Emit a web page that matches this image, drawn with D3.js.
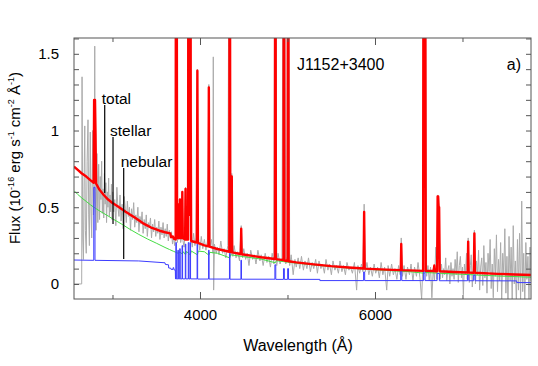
<!DOCTYPE html>
<html>
<head>
<meta charset="utf-8">
<script src="https://cdn.jsdelivr.net/npm/d3@7"></script>
<style>
  body { margin: 0; background: #fff; }
  text { font-family: "Liberation Sans", Arial, Helvetica, sans-serif; }
</style>
</head>
<body>
<div id="grafico"></div>
<script>
// observed spectrum (wavelength in Å, flux in 1e-16 erg/s/cm2/Å)
const grayBlue = [[2560,0],[2648,0],[2652,1.35],[2660,0.3],[2668,0.16],[2676,0.7],[2683,1.03],[2690,0.35],[2700,0.2],[2710,0.8],
  [2720,1.07],[2728,0.45],[2736,0.25],[2746,0.99],[2754,0.5],[2762,0.3],[2774,1.0],[2782,0.45],[2790,0.55],[2797,1.55],
  [2803,0.6],[2812,0.35],[2822,0.85],[2832,0.4],[2842,0.78],[2852,0.42],[2860,0.7],[2868,0.55],[2876,0.8],[2884,0.46],
  [2892,0.62],[2900,0.43],[2908,0.72],[2916,0.52],[2924,0.66],[2932,0.4],[2940,0.6],[2948,0.5],[2956,0.69],[2964,0.44],
  [2972,0.58],[2980,0.47],[2988,0.65],[2996,0.42],[3002,0.6],[3014,0.47],[3026,0.55],[3038,0.38],[3050,0.63],[3062,0.5],
  [3074,0.44],[3086,0.58],[3098,0.41],[3110,0.52],[3122,0.36],[3134,0.57],[3146,0.49],[3158,0.4],[3170,0.54],[3182,0.44],
  [3194,0.5],[3206,0.35],[3218,0.49],[3230,0.42],[3242,0.53],[3254,0.37],[3266,0.45],[3278,0.4],[3290,0.5],[3302,0.34],
  [3314,0.44],[3326,0.39],[3338,0.47],[3350,0.33],[3362,0.42],[3374,0.36],[3386,0.45],[3398,0.31],[3410,0.4],[3422,0.37],
  [3434,0.43],[3446,0.3],[3458,0.39],[3470,0.34],[3482,0.42],[3494,0.31],[3506,0.37],[3518,0.33],[3530,0.41],[3542,0.29],
  [3554,0.37],[3566,0.32],[3578,0.4],[3590,0.3],[3602,0.36],[3614,0.31],[3626,0.39],[3638,0.28],[3650,0.35],[3662,0.3],
  [3674,0.34],[3686,0.26],[3698,0.31],[3710,0.25]];
const grayMid = [[3720,0.3],[3727,4],[3734,0.34],[3742,0.27],[3750,0.5],[3757,0.29],[3764,0.31],[3771,0.55],[3779,0.27],[3790,0.31],
  [3798,0.6],[3806,0.28],[3818,0.24],[3826,0.32],[3835,0.63],[3843,0.29],[3855,0.33],[3869,4],[3879,0.5],[3889,4],
  [3898,0.3],[3912,0.24],[3927,0.33],[3942,0.25],[3955,0.3],[3970,1.4],[3982,0.3],[3997,0.22],[4015,0.31],[4032,0.23],
  [4050,0.29],[4068,0.22],[4085,0.28],[4101,1.3],[4114,0.24],[4130,0.29],[4148,0.2],[4152,1.48],[4156,-0.04],[4165,0.26],
  [4185,0.2],[4200,0.24],[4218,0.19],[4238,0.28],[4258,0.2],[4275,0.23],[4295,0.17],[4318,0.25],[4340,4],[4352,0.19],
  [4363,0.72],[4375,0.18],[4390,0.25],[4412,0.17],[4430,0.21],[4452,0.15],[4471,0.38],[4487,0.17],[4500,0.23],[4522,0.16],
  [4540,0.2],[4560,0.12],[4580,0.22],[4602,0.16],[4622,0.19],[4640,0.13],[4662,0.22],[4685,0.15],[4700,0.19],[4722,0.12],
  [4745,0.2],[4765,0.14],[4785,0.18],[4805,0.11],[4825,0.2],[4845,0.13],[4861,4],[4877,0.12],[4892,0.2],[4915,0.13],
  [4937,0.17],[4959,4],[4980,0.13],[4993,0.18],[5007,4],[5025,0.12],[5042,0.19],[5065,0.06],[5085,0.16],[5100,0.11],
  [5122,0.17],[5140,0.1],[5160,0.18],[5182,0.09],[5200,0.15],[5222,0.1],[5240,0.17],[5262,0.08],[5282,0.14],[5300,0.1],
  [5322,0.16],[5342,0.07],[5360,0.15],[5382,0.1],[5400,0.13],[5422,0.07],[5440,0.16],[5462,0.09],[5480,0.13],[5502,0.06],
  [5520,0.15],[5542,0.09],[5560,0.12],[5582,0.07],[5600,0.15],[5622,0.08],[5640,0.12],[5662,0.06],[5680,0.14],[5702,0.09],
  [5720,0.11],[5742,0.07],[5765,0.14],[5790,-0.04],[5805,0.12],[5825,0.07],[5845,0.13],[5862,0.08],[5876,0.52],[5890,0.08],
  [5908,0.14],[5930,0.06],[5948,0.11],[5970,0.05],[5990,0.13],[6008,0.07],[6030,0.11],[6050,0.04],[6070,0.14],[6090,0.06],
  [6110,0.11],[6134,-0.04],[6150,0.12],[6168,0.05],[6190,0.13],[6210,0.06],[6228,0.1],[6250,0.03],[6270,0.12],[6288,0.06],
  [6300,0.3],[6314,0.05],[6332,0.12],[6354,0.03],[6372,0.11],[6394,0.06],[6412,0.13],[6434,0.02],[6452,0.11],[6474,0.05],
  [6492,0.14],[6514,0.04],[6533,-0.1],[6546,0.1],[6563,4],[6590,0.05],[6605,0.12],[6620,0.02],[6635,0.11],[6650,-0.09],
  [6666,0.1],[6680,0.02],[6695,0.24],[6707,0.03],[6717,0.58],[6731,0.5],[6745,0.03]];
const grayRed = [[6760,0.13],[6772,0.04],[6784,0.1],[6796,0.06],[6808,0.17],[6820,0.02],[6832,0.09],[6844,0.12],[6856,0.0],[6868,0.14],
  [6880,0.05],[6892,0.1],[6904,0.03],[6916,0.16],[6928,0.06],[6940,0.21],[6952,0.01],[6964,0.12],[6976,0.18],[6988,0.04],
  [7000,0.11],[7010,-0.07],[7022,0.13],[7034,0.06],[7046,0.2],[7055,0.03],[7065,0.3],[7078,0.01],[7090,0.12],[7100,0.19],
  [7112,-0.02],[7124,0.1],[7136,0.35],[7148,0.0],[7160,0.15],[7172,0.06],[7184,0.22],[7196,-0.04],[7208,0.11],[7220,0.17],
  [7232,-0.01],[7244,0.25],[7256,0.04],[7268,0.14],[7280,-0.06],[7292,0.2],[7304,0.08],[7316,0.29],[7328,-0.03],[7340,0.13],
  [7352,-0.09],[7364,0.23],[7376,0.05],[7388,0.32],[7400,-0.05],[7412,0.16],[7424,0.02],[7436,0.27],[7448,-0.11],[7460,0.2],
  [7472,0.07],[7484,0.36],[7496,-0.06],[7508,0.18],[7520,-0.13],[7532,0.31],[7544,0.02],[7556,0.24],[7568,-0.1],[7580,0.38],
  [7592,0.0],[7604,0.15],[7616,-0.14],[7628,0.29],[7640,-0.04],[7652,0.33],[7664,-0.12],[7677,0.54],[7688,-0.05],[7700,0.2],
  [7712,-0.13],[7724,0.27],[7736,0.03],[7748,0.18],[7760,-0.1],[7772,0.24],[7783,0.02]];

// stellar model
const stellar = [[2560,0.608],[2600,0.585],[2650,0.56],[2700,0.538],[2750,0.515],[2800,0.495],[2850,0.477],[2900,0.46],
  [2950,0.443],[3000,0.425],[3100,0.392],[3200,0.356],[3300,0.323],[3400,0.293],[3500,0.266],[3600,0.238],[3650,0.225],
  [3700,0.212],[3730,0.205],[3750,0.2],[3770,0.208],[3798,0.195],[3810,0.21],[3835,0.19],[3845,0.212],[3889,0.19],
  [3900,0.215],[3970,0.19],[3980,0.214],[4050,0.21],[4101,0.188],[4112,0.206],[4200,0.2],[4340,0.17],[4350,0.19],
  [4500,0.178],[4700,0.162],[4861,0.138],[4872,0.152],[5000,0.142],[5200,0.13],[5400,0.119],[5600,0.108],[5800,0.1],
  [6000,0.093],[6200,0.086],[6400,0.08],[6563,0.07],[6575,0.075],[6800,0.068],[7000,0.063],[7200,0.057],[7400,0.052],
  [7600,0.048],[7783,0.044]];

// nebular model
const nebular = [[2560,0.156],[2786,0.154],[2786,0.63],[2800,0.63],[2800,0.154],[3300,0.15],[3600,0.138],[3605,0.127],
  [3640,0.125],[3642,0.104],[3665,0.103],[3668,0.096],[3690,0.094],[3692,0.106],[3700,0.106],[3702,0.093],[3718,0.09],[3720,0.033],
  [3724,0.033],[3724,0.27],[3730,0.27],[3730,0.033],[3747,0.033],[3747,0.22],[3753,0.22],[3753,0.033],
  [3768,0.033],[3768,0.23],[3774,0.23],[3774,0.033],[3795,0.033],[3795,0.25],[3801,0.25],[3801,0.033],
  [3832,0.033],[3832,0.26],[3838,0.26],[3838,0.033],[3866,0.033],[3866,0.27],[3872,0.27],[3872,0.033],
  [3886,0.033],[3886,0.27],[3892,0.27],[3892,0.033],[3967,0.033],[3967,0.26],[3973,0.26],[3973,0.032],
  [4098,0.032],[4098,0.22],[4104,0.22],[4104,0.032],[4337,0.032],[4337,0.2],[4343,0.2],[4343,0.031],
  [4468,0.031],[4468,0.155],[4474,0.155],[4474,0.031],[4856,0.031],[4856,0.125],[4866,0.125],[4866,0.03],
  [4954,0.03],[4954,0.1],[4964,0.1],[4964,0.03],[5002,0.03],[5002,0.1],[5012,0.1],[5012,0.03],
  [5370,0.03],[5370,0.022],[5870,0.022],[5870,0.078],[5882,0.078],[5882,0.022],
  [6294,0.022],[6294,0.09],[6306,0.09],[6306,0.022],[6556,0.022],[6556,0.085],[6572,0.085],[6572,0.022],
  [6710,0.022],[6710,0.068],[6736,0.068],[6736,0.021],[7058,0.021],[7058,0.058],[7072,0.058],[7072,0.021],
  [7128,0.021],[7128,0.058],[7144,0.058],[7144,0.021],[7620,0.02],[7620,0.009],[7783,0.009]];

// total model (stellar + nebular + emission lines)
const total = [[2560,0.765],[2600,0.745],[2650,0.72],[2700,0.7],[2750,0.675],[2785,0.66],[2790,1.2],[2800,1.2],[2806,0.98],
  [2812,0.655],[2850,0.615],[2900,0.58],[2950,0.55],[3000,0.528],[3050,0.51],[3100,0.49],[3150,0.47],[3200,0.452],
  [3250,0.435],[3300,0.415],[3350,0.395],[3400,0.38],[3450,0.365],[3500,0.355],[3550,0.345],[3600,0.337],[3660,0.33],
  [3670,0.305],[3690,0.31],[3700,0.295],[3722,0.29],[3726,4],[3731,4],[3738,0.33],[3745,0.3],[3750,0.52],[3755,0.3],
  [3766,0.3],[3771,0.55],[3776,0.3],[3793,0.3],[3798,0.6],[3803,0.3],[3830,0.29],[3835,0.62],[3840,0.29],[3864,0.29],
  [3869,4],[3874,0.5],[3884,0.45],[3889,4],[3894,1.09],[3899,0.28],[3950,0.272],[3964,0.27],[3970,1.39],[3976,0.268],
  [4050,0.252],[4096,0.245],[4101,1.28],[4107,0.243],[4200,0.228],[4335,0.21],[4340,4],[4346,0.21],[4358,0.207],
  [4363,0.7],[4368,0.206],[4466,0.195],[4471,0.36],[4476,0.194],[4600,0.183],[4700,0.174],[4856,0.163],[4861,4],
  [4867,0.162],[4954,0.155],[4959,4],[4964,0.153],[5002,0.15],[5007,4],[5013,0.148],[5100,0.141],[5300,0.128],
  [5500,0.116],[5700,0.107],[5870,0.101],[5876,0.47],[5882,0.1],[6000,0.097],[6200,0.092],[6295,0.09],[6300,0.26],
  [6306,0.09],[6550,0.085],[6557,4],[6570,4],[6580,0.085],[6670,0.084],[6678,0.12],[6686,0.083],[6710,0.083],
  [6716,0.57],[6722,0.57],[6727,0.5],[6733,0.5],[6740,0.083],[6900,0.078],[7060,0.075],[7065,0.276],[7070,0.075],
  [7130,0.073],[7136,0.33],[7142,0.073],[7400,0.066],[7600,0.062],[7783,0.058]];

// annotation pointers
const annotLabels = ["total", "stellar", "nebular"];
const annotWave = [2911, 3006, 3128];
const annotTop = [1.166, 0.958, 0.756];
const annotBottom = [0.593, 0.391, 0.163];

// ticks
const xMajor = [4000, 6000];
const xMinor = [3000, 5000, 7000];
const yMajor = [0, 0.5, 1, 1.5];
const yMinor = [0.1, 0.2, 0.3, 0.4, 0.6, 0.7, 0.8, 0.9, 1.1, 1.2, 1.3, 1.4, 1.6];

const width = 538, height = 366;
const marginLeft = 74, marginRight = 7, marginTop = 38, marginBottom = 67;

const x = d3.scaleLinear().domain([2560, 7783]).range([marginLeft, width - marginRight]);
const y = d3.scaleLinear().domain([-0.098, 1.603]).range([height - marginBottom, marginTop]);

const svg = d3.select("#grafico").append("svg")
  .attr("width", width).attr("height", height)
  .style("display", "block");

svg.append("defs").append("clipPath").attr("id", "zona")
  .append("rect")
  .attr("x", marginLeft).attr("y", marginTop)
  .attr("width", width - marginLeft - marginRight)
  .attr("height", height - marginTop - marginBottom);

const linea = d3.line().x(d => x(d[0])).y(d => y(d[1]));
const plot = svg.append("g").attr("clip-path", "url(#zona)");

plot.append("path").datum(grayBlue.concat(grayMid, grayRed))
  .attr("d", linea).attr("fill", "none")
  .attr("stroke", "#ababab").attr("stroke-width", 1);

plot.append("path").datum(stellar)
  .attr("d", linea).attr("fill", "none")
  .attr("stroke", "#44dd44").attr("stroke-width", 1);

plot.append("path").datum(nebular)
  .attr("d", linea).attr("fill", "none")
  .attr("stroke", "#3c3cff").attr("stroke-width", 1);

plot.append("path").datum(total)
  .attr("d", linea).attr("fill", "none")
  .attr("stroke", "#ff0000").attr("stroke-width", 2.4)
  .attr("stroke-linejoin", "round");

// annotation lines + labels
annotLabels.forEach((lab, i) => {
  svg.append("line")
    .attr("x1", x(annotWave[i])).attr("x2", x(annotWave[i]))
    .attr("y1", y(annotTop[i])).attr("y2", y(annotBottom[i]))
    .attr("stroke", "#000").attr("stroke-width", 1.2);
  svg.append("text")
    .attr("x", x(annotWave[i]) - 3).attr("y", y(annotTop[i]) - 1)
    .attr("font-size", 15.5).attr("fill", "#000")
    .text(lab);
});

// axes
const frameColor = "#555";
const fmt = d => d3.format("~g")(d);

function ejes(g) {
  g.selectAll(".domain").remove();
  g.selectAll("line").attr("stroke", frameColor);
  g.selectAll("text").attr("font-size", 15).attr("fill", "#000")
    .style("font-family", "'Liberation Sans', Arial, sans-serif");
}

svg.append("g").attr("transform", `translate(0,${height - marginBottom})`)
  .call(d3.axisBottom(x).tickValues(xMajor).tickSize(-7).tickPadding(10).tickFormat(fmt)).call(ejes);
svg.append("g").attr("transform", `translate(0,${height - marginBottom})`)
  .call(d3.axisBottom(x).tickValues(xMinor).tickSize(-4).tickFormat("")).call(ejes);
svg.append("g").attr("transform", `translate(0,${marginTop})`)
  .call(d3.axisTop(x).tickValues(xMajor).tickSize(-7).tickFormat("")).call(ejes);
svg.append("g").attr("transform", `translate(0,${marginTop})`)
  .call(d3.axisTop(x).tickValues(xMinor).tickSize(-4).tickFormat("")).call(ejes);

svg.append("g").attr("transform", `translate(${marginLeft},0)`)
  .call(d3.axisLeft(y).tickValues(yMajor).tickSize(-5).tickPadding(15).tickFormat(fmt)).call(ejes);
svg.append("g").attr("transform", `translate(${marginLeft},0)`)
  .call(d3.axisLeft(y).tickValues(yMinor).tickSize(-5).tickFormat("")).call(ejes);
svg.append("g").attr("transform", `translate(${width - marginRight},0)`)
  .call(d3.axisRight(y).tickValues(yMajor.concat(yMinor)).tickSize(-5).tickFormat("")).call(ejes);

svg.append("rect")
  .attr("x", marginLeft).attr("y", marginTop)
  .attr("width", width - marginLeft - marginRight)
  .attr("height", height - marginTop - marginBottom)
  .attr("fill", "none").attr("stroke", frameColor).attr("stroke-width", 1);

// titles
svg.append("text")
  .attr("x", 298).attr("y", 351)
  .attr("text-anchor", "middle").attr("font-size", 16)
  .text("Wavelength (Å)");

const yt = svg.append("text")
  .attr("transform", "translate(20,158) rotate(-90)")
  .attr("text-anchor", "middle").attr("font-size", 15);
const partes = [["Flux (10", 0], ["-16", 1], [" erg s", 0], ["-1", 1], [" cm", 0], ["-2", 1], [" Å", 0], ["-1", 1], [")", 0]];
let arriba = false;
partes.forEach(([t, sup]) => {
  const ts = yt.append("tspan").text(t);
  if (sup) {
    ts.attr("font-size", 9).attr("dy", arriba ? 0 : -6);
    arriba = true;
  } else {
    ts.attr("dy", arriba ? 6 : 0);
    arriba = false;
  }
});

svg.append("text").attr("x", 297).attr("y", 70).attr("font-size", 16).text("J1152+3400");
svg.append("text").attr("x", 521).attr("y", 70).attr("font-size", 16).attr("text-anchor", "end").text("a)");
</script>
</body>
</html>
